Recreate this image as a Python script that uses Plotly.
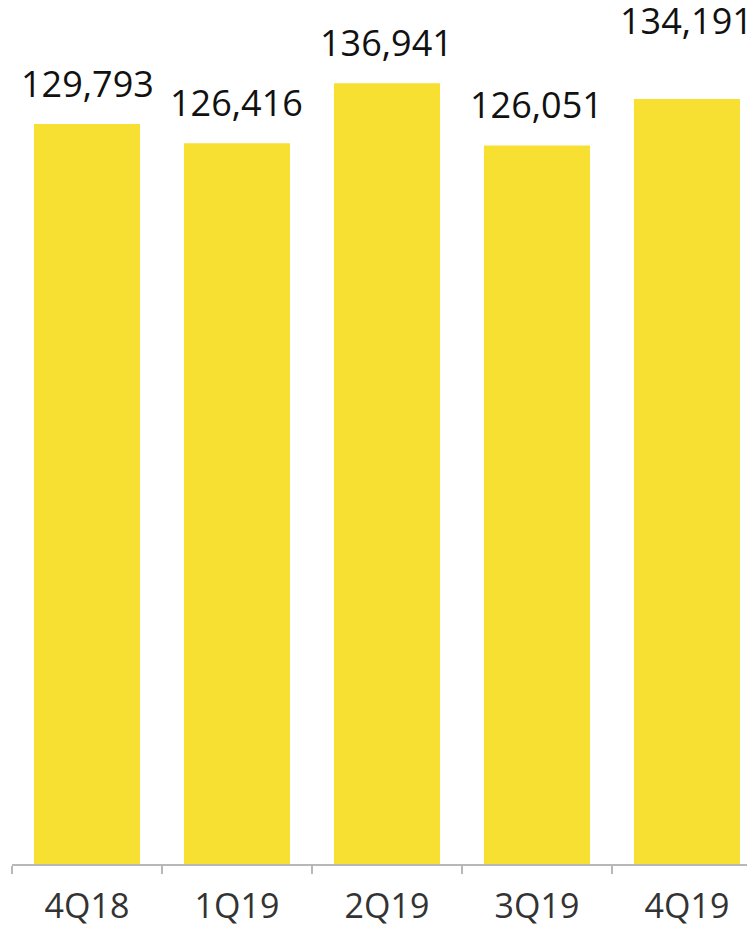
import plotly.graph_objects as go

categories = ["4Q18", "1Q19", "2Q19", "3Q19", "4Q19"]
values = [129793, 126416, 136941, 126051, 134191]
labels = ["129,793", "126,416", "136,941", "126,051", "134,191"]
label_shift = [0, 0, 0, 0, 38]

fig = go.Figure(go.Bar(
    x=categories, y=values, marker_color="#F7E032", marker_line_width=0,
    hoverinfo="skip",
))

for c, v, t, s in zip(categories, values, labels, label_shift):
    fig.add_annotation(x=c, y=v, text=t, showarrow=False, yanchor="bottom",
                       yshift=14 + s, font=dict(family="Open Sans", size=36, color="#111111"))

fig.update_layout(
    width=755, height=926,
    margin=dict(l=4, r=0, t=0, b=70),
    plot_bgcolor="white", paper_bgcolor="white",
    bargap=0.293, showlegend=False,
    xaxis=dict(range=[-0.5, 4.507], showline=True, linecolor="#b8b8b8", linewidth=2,
               ticks="outside", tickson="boundaries", ticklen=8, tickcolor="#b8b8b8", tickwidth=2,
               ticklabelstandoff=11,
               tickfont=dict(family="Open Sans", size=34, color="#333333"), showgrid=False),
    yaxis=dict(range=[0, 150150], visible=False, showgrid=False),
)

fig.write_html("out.html")
